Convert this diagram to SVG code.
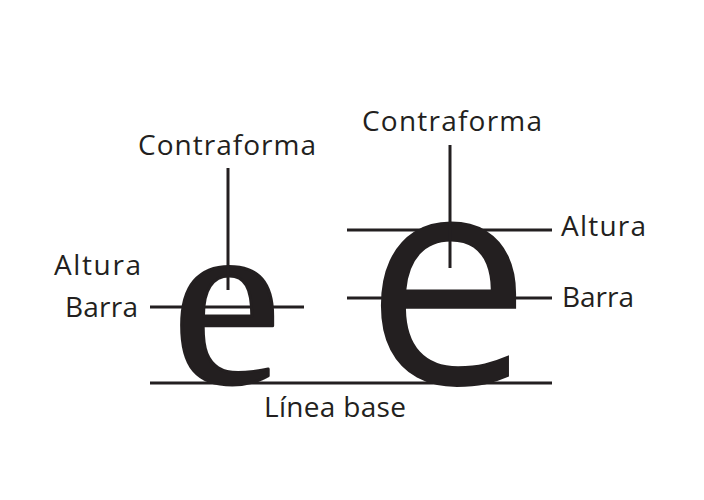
<svg xmlns="http://www.w3.org/2000/svg" width="704" height="500" viewBox="0 0 704 500">
<style>
.lbl{font-family:"Open Sans","Noto Sans",sans-serif;font-size:28px;fill:#231f20}
.ln{stroke:#231f20;stroke-width:3;fill:none}
.glyph{fill:#231f20}
</style>
<rect width="704" height="500" fill="#fff"/>
<g id="connectors">
<line class="ln" x1="150" y1="383" x2="552" y2="383"/>
<line class="ln" x1="150" y1="307" x2="304" y2="307"/>
<line class="ln" x1="347" y1="230" x2="552" y2="230"/>
<line class="ln" x1="347" y1="298" x2="552" y2="298"/>
</g>
<g id="small-e">
<text class="glyph" x="226.5" y="383" text-anchor="middle" style="font-family:'Liberation Serif',serif;font-size:246px;stroke:#231f20;stroke-width:3;stroke-linejoin:round">e</text>
</g>
<g id="big-e">
<text class="glyph" x="448" y="384" text-anchor="middle" style="font-family:'Open Sans',sans-serif;font-size:298px">e</text>
</g>
<g id="pointers">
<line class="ln" x1="228" y1="168" x2="228" y2="290"/>
<line class="ln" x1="450" y1="145" x2="450" y2="268"/>
</g>
<g id="label-contraforma-1"><text class="lbl" x="138" y="155" textLength="178" lengthAdjust="spacing">Contraforma</text></g>
<g id="label-altura-1"><text class="lbl" x="54" y="275" textLength="87" lengthAdjust="spacing">Altura</text></g>
<g id="label-barra-1"><text class="lbl" x="65" y="317" textLength="73" lengthAdjust="spacing">Barra</text></g>
<g id="label-contraforma-2"><text class="lbl" x="362" y="131" textLength="180" lengthAdjust="spacing">Contraforma</text></g>
<g id="label-altura-2"><text class="lbl" x="561" y="236" textLength="85" lengthAdjust="spacing">Altura</text></g>
<g id="label-barra-2"><text class="lbl" x="562" y="307" textLength="72" lengthAdjust="spacing">Barra</text></g>
<g id="label-linea"><text class="lbl" x="264" y="417" textLength="142" lengthAdjust="spacing">Línea base</text></g>
</svg>
